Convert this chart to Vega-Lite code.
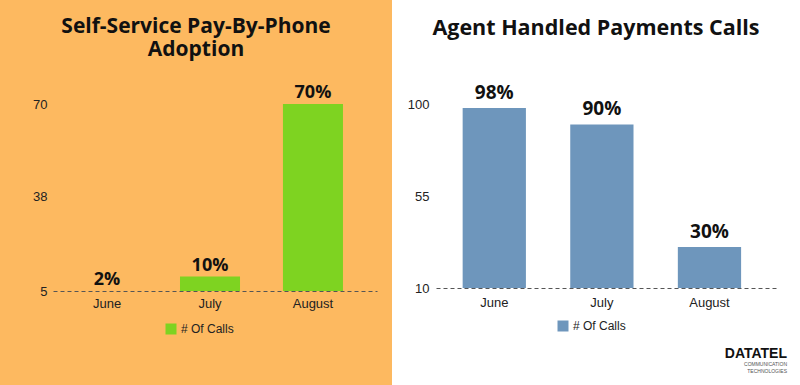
{
  "$schema": "https://vega.github.io/schema/vega-lite/v6.json",
  "background": "#ffffff",
  "padding": 0,
  "spacing": 0,
  "config": {
    "view": {"stroke": null},
    "axis": {"labelFont": "Liberation Sans", "labelFontSize": 13, "labelColor": "#222222", "grid": false, "ticks": false, "title": null},
    "legend": {"padding": 0}
  },
  "title": {
    "text": "DATATEL",
    "subtitle": ["COMMUNICATION", "TECHNOLOGIES"],
    "orient": "bottom",
    "anchor": "end",
    "offset": -38,
    "dx": -13,
    "font": "Liberation Sans",
    "fontSize": 14,
    "fontWeight": "bold",
    "color": "#111111",
    "subtitleFont": "Liberation Sans",
    "subtitleFontSize": 5,
    "subtitleColor": "#555555",
    "subtitlePadding": 1
  },
  "datasets": {
    "selfService": [
      {"month": "June", "value": 2, "label": "2%", "series": "# Of Calls"},
      {"month": "July", "value": 10, "label": "10%", "series": "# Of Calls"},
      {"month": "August", "value": 70, "label": "70%", "series": "# Of Calls"}
    ],
    "agent": [
      {"month": "June", "value": 98, "label": "98%", "series": "# Of Calls"},
      {"month": "July", "value": 90, "label": "90%", "series": "# Of Calls"},
      {"month": "August", "value": 30, "label": "30%", "series": "# Of Calls"}
    ]
  },
  "hconcat": [
    {
      "width": 392,
      "height": 385,
      "view": {"fill": "#FDB960", "stroke": null},
      "title": {
        "text": ["Self-Service Pay-By-Phone", "Adoption"],
        "offset": -60,
        "font": "Open Sans",
        "fontSize": 21,
        "fontWeight": "bold",
        "color": "#111111",
        "lineHeight": 23,
        "anchor": "middle"
      },
      "data": {"name": "selfService"},
      "encoding": {
        "x": {
          "field": "month", "type": "nominal", "sort": ["June", "July", "August"],
          "scale": {"range": [53, 377], "paddingInner": 0.417, "paddingOuter": 0.282, "align": 0.414},
          "axis": {"labelAngle": 0, "offset": -94, "labelPadding": 6, "domainDash": [4, 3], "domainColor": "#555555", "domainWidth": 1}
        },
        "y": {
          "field": "value", "type": "quantitative",
          "scale": {"domain": [5, 70], "range": [291, 104], "clamp": true, "zero": false, "nice": false},
          "axis": {"values": [5, 38, 70], "domain": false, "offset": -53, "labelPadding": 6}
        }
      },
      "layer": [
        {
          "mark": {"type": "bar"},
          "encoding": {
            "y2": {"datum": 5},
            "color": {
              "field": "series", "type": "nominal",
              "scale": {"range": ["#7ED321"]},
              "legend": {"orient": "none", "legendX": 165, "legendY": 323, "direction": "horizontal", "title": null, "symbolType": "square", "symbolSize": 121, "symbolStrokeWidth": 0, "labelFont": "Liberation Sans", "labelFontSize": 12, "labelColor": "#222222", "labelOffset": 4}
            }
          }
        },
        {
          "mark": {"type": "text", "font": "Open Sans", "fontWeight": "bold", "fontSize": 18, "color": "#111111", "baseline": "alphabetic", "dy": -6},
          "encoding": {"text": {"field": "label"}}
        }
      ]
    },
    {
      "width": 408,
      "height": 385,
      "view": {"fill": "#ffffff", "stroke": null},
      "title": {
        "text": "Agent Handled Payments Calls",
        "offset": -39,
        "font": "Open Sans",
        "fontSize": 21.5,
        "fontWeight": "bold",
        "color": "#111111",
        "anchor": "middle"
      },
      "data": {"name": "agent"},
      "encoding": {
        "x": {
          "field": "month", "type": "nominal", "sort": ["June", "July", "August"],
          "scale": {"range": [44, 384], "paddingInner": 0.412, "paddingOuter": 0.286, "align": 0.433},
          "axis": {"labelAngle": 0, "offset": -97, "labelPadding": 8, "domainDash": [4, 3], "domainColor": "#555555", "domainWidth": 1}
        },
        "y": {
          "field": "value", "type": "quantitative",
          "scale": {"domain": [10, 100], "range": [288, 104], "clamp": true, "zero": false, "nice": false},
          "axis": {"values": [10, 55, 100], "domain": false, "offset": -44, "labelPadding": 7}
        }
      },
      "layer": [
        {
          "mark": {"type": "bar"},
          "encoding": {
            "y2": {"datum": 10},
            "color": {
              "field": "series", "type": "nominal",
              "scale": {"range": ["#6E96BC"]},
              "legend": {"orient": "none", "legendX": 165, "legendY": 320, "direction": "horizontal", "title": null, "symbolType": "square", "symbolSize": 121, "symbolStrokeWidth": 0, "labelFont": "Liberation Sans", "labelFontSize": 12, "labelColor": "#222222", "labelOffset": 4}
            }
          }
        },
        {
          "mark": {"type": "text", "font": "Open Sans", "fontWeight": "bold", "fontSize": 19, "color": "#111111", "baseline": "alphabetic", "dy": -9},
          "encoding": {"text": {"field": "label"}}
        }
      ]
    }
  ],
  "resolve": {"scale": {"color": "independent", "x": "independent", "y": "independent"}, "legend": {"color": "independent"}}
}
